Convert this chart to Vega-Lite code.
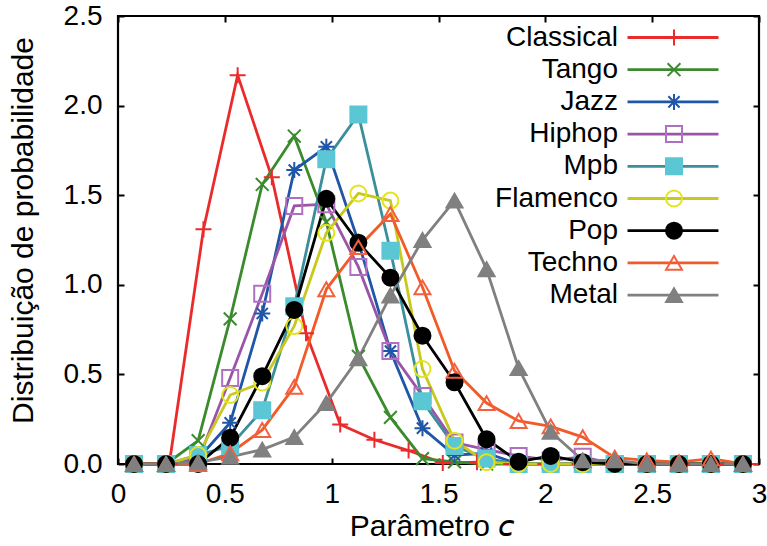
{
  "$schema": "https://vega.github.io/schema/vega-lite/v6.json",
  "width": 641,
  "height": 448,
  "autosize": {"type": "none"},
  "padding": {"left": 118, "top": 16, "right": 8, "bottom": 82},
  "background": "white",
  "config": {
    "view": {"stroke": "black", "strokeWidth": 2.2},
    "font": "Liberation Sans",
    "axis": {
      "labelFont": "Liberation Sans",
      "titleFont": "Liberation Sans",
      "labelColor": "black",
      "titleColor": "black",
      "labelFontSize": 28,
      "titleFontSize": 30,
      "titleFontWeight": "normal",
      "grid": false,
      "domain": false,
      "tickColor": "black",
      "tickWidth": 2,
      "tickSize": -6
    }
  },
  "data": {
    "values": [
      {"genre": "Classical", "c": 0.08, "p": 0},
      {"genre": "Classical", "c": 0.24, "p": 0},
      {"genre": "Classical", "c": 0.40, "p": 1.31},
      {"genre": "Classical", "c": 0.56, "p": 2.17},
      {"genre": "Classical", "c": 0.72, "p": 1.60},
      {"genre": "Classical", "c": 0.88, "p": 0.73},
      {"genre": "Classical", "c": 1.04, "p": 0.22},
      {"genre": "Classical", "c": 1.20, "p": 0.135},
      {"genre": "Classical", "c": 1.36, "p": 0.075},
      {"genre": "Classical", "c": 1.52, "p": 0.005},
      {"genre": "Classical", "c": 1.68, "p": 0.01},
      {"genre": "Classical", "c": 1.84, "p": 0},
      {"genre": "Classical", "c": 2.00, "p": 0},
      {"genre": "Classical", "c": 2.16, "p": 0},
      {"genre": "Classical", "c": 2.32, "p": 0},
      {"genre": "Classical", "c": 2.48, "p": 0},
      {"genre": "Classical", "c": 2.64, "p": 0},
      {"genre": "Classical", "c": 2.80, "p": 0},
      {"genre": "Classical", "c": 2.96, "p": 0},

      {"genre": "Tango", "c": 0.075, "p": 0},
      {"genre": "Tango", "c": 0.225, "p": 0},
      {"genre": "Tango", "c": 0.375, "p": 0.13},
      {"genre": "Tango", "c": 0.525, "p": 0.81},
      {"genre": "Tango", "c": 0.675, "p": 1.56},
      {"genre": "Tango", "c": 0.825, "p": 1.83},
      {"genre": "Tango", "c": 0.975, "p": 1.35},
      {"genre": "Tango", "c": 1.125, "p": 0.60},
      {"genre": "Tango", "c": 1.275, "p": 0.26},
      {"genre": "Tango", "c": 1.425, "p": 0.03},
      {"genre": "Tango", "c": 1.575, "p": 0.012},
      {"genre": "Tango", "c": 1.725, "p": 0},
      {"genre": "Tango", "c": 1.875, "p": 0},
      {"genre": "Tango", "c": 2.025, "p": 0},
      {"genre": "Tango", "c": 2.175, "p": 0},
      {"genre": "Tango", "c": 2.325, "p": 0},
      {"genre": "Tango", "c": 2.475, "p": 0},
      {"genre": "Tango", "c": 2.625, "p": 0},
      {"genre": "Tango", "c": 2.775, "p": 0},
      {"genre": "Tango", "c": 2.925, "p": 0},

      {"genre": "Jazz", "c": 0.075, "p": 0},
      {"genre": "Jazz", "c": 0.225, "p": 0},
      {"genre": "Jazz", "c": 0.375, "p": 0.03},
      {"genre": "Jazz", "c": 0.525, "p": 0.23},
      {"genre": "Jazz", "c": 0.675, "p": 0.84},
      {"genre": "Jazz", "c": 0.825, "p": 1.64},
      {"genre": "Jazz", "c": 0.975, "p": 1.77},
      {"genre": "Jazz", "c": 1.125, "p": 1.24},
      {"genre": "Jazz", "c": 1.275, "p": 0.63},
      {"genre": "Jazz", "c": 1.425, "p": 0.20},
      {"genre": "Jazz", "c": 1.575, "p": 0.05},
      {"genre": "Jazz", "c": 1.725, "p": 0.06},
      {"genre": "Jazz", "c": 1.875, "p": 0},
      {"genre": "Jazz", "c": 2.025, "p": 0},
      {"genre": "Jazz", "c": 2.175, "p": 0},
      {"genre": "Jazz", "c": 2.325, "p": 0},
      {"genre": "Jazz", "c": 2.475, "p": 0},
      {"genre": "Jazz", "c": 2.625, "p": 0},
      {"genre": "Jazz", "c": 2.775, "p": 0},
      {"genre": "Jazz", "c": 2.925, "p": 0},

      {"genre": "Hiphop", "c": 0.075, "p": 0},
      {"genre": "Hiphop", "c": 0.225, "p": 0},
      {"genre": "Hiphop", "c": 0.375, "p": 0.02},
      {"genre": "Hiphop", "c": 0.525, "p": 0.48},
      {"genre": "Hiphop", "c": 0.675, "p": 0.95},
      {"genre": "Hiphop", "c": 0.825, "p": 1.44},
      {"genre": "Hiphop", "c": 0.975, "p": 1.45},
      {"genre": "Hiphop", "c": 1.125, "p": 1.10},
      {"genre": "Hiphop", "c": 1.275, "p": 0.63},
      {"genre": "Hiphop", "c": 1.425, "p": 0.38},
      {"genre": "Hiphop", "c": 1.575, "p": 0.12},
      {"genre": "Hiphop", "c": 1.725, "p": 0.08},
      {"genre": "Hiphop", "c": 1.875, "p": 0.045},
      {"genre": "Hiphop", "c": 2.025, "p": 0.02},
      {"genre": "Hiphop", "c": 2.175, "p": 0.04},
      {"genre": "Hiphop", "c": 2.325, "p": 0},
      {"genre": "Hiphop", "c": 2.475, "p": 0},
      {"genre": "Hiphop", "c": 2.625, "p": 0},
      {"genre": "Hiphop", "c": 2.775, "p": 0},
      {"genre": "Hiphop", "c": 2.925, "p": 0},

      {"genre": "Mpb", "c": 0.075, "p": 0},
      {"genre": "Mpb", "c": 0.225, "p": 0},
      {"genre": "Mpb", "c": 0.375, "p": 0.05},
      {"genre": "Mpb", "c": 0.525, "p": 0.10},
      {"genre": "Mpb", "c": 0.675, "p": 0.30},
      {"genre": "Mpb", "c": 0.825, "p": 0.88},
      {"genre": "Mpb", "c": 0.975, "p": 1.70},
      {"genre": "Mpb", "c": 1.125, "p": 1.95},
      {"genre": "Mpb", "c": 1.275, "p": 1.19},
      {"genre": "Mpb", "c": 1.425, "p": 0.35},
      {"genre": "Mpb", "c": 1.575, "p": 0.10},
      {"genre": "Mpb", "c": 1.725, "p": 0.03},
      {"genre": "Mpb", "c": 1.875, "p": 0},
      {"genre": "Mpb", "c": 2.025, "p": 0},
      {"genre": "Mpb", "c": 2.175, "p": 0},
      {"genre": "Mpb", "c": 2.325, "p": 0},
      {"genre": "Mpb", "c": 2.475, "p": 0},
      {"genre": "Mpb", "c": 2.625, "p": 0},
      {"genre": "Mpb", "c": 2.775, "p": 0},
      {"genre": "Mpb", "c": 2.925, "p": 0},

      {"genre": "Flamenco", "c": 0.075, "p": 0},
      {"genre": "Flamenco", "c": 0.225, "p": 0},
      {"genre": "Flamenco", "c": 0.375, "p": 0.05},
      {"genre": "Flamenco", "c": 0.525, "p": 0.385},
      {"genre": "Flamenco", "c": 0.675, "p": 0.455},
      {"genre": "Flamenco", "c": 0.825, "p": 0.77},
      {"genre": "Flamenco", "c": 0.975, "p": 1.29},
      {"genre": "Flamenco", "c": 1.125, "p": 1.51},
      {"genre": "Flamenco", "c": 1.275, "p": 1.47},
      {"genre": "Flamenco", "c": 1.425, "p": 0.53},
      {"genre": "Flamenco", "c": 1.575, "p": 0.13},
      {"genre": "Flamenco", "c": 1.725, "p": 0.01},
      {"genre": "Flamenco", "c": 1.875, "p": 0},
      {"genre": "Flamenco", "c": 2.025, "p": 0},
      {"genre": "Flamenco", "c": 2.175, "p": 0},
      {"genre": "Flamenco", "c": 2.325, "p": 0},
      {"genre": "Flamenco", "c": 2.475, "p": 0},
      {"genre": "Flamenco", "c": 2.625, "p": 0},
      {"genre": "Flamenco", "c": 2.775, "p": 0},
      {"genre": "Flamenco", "c": 2.925, "p": 0},

      {"genre": "Pop", "c": 0.075, "p": 0},
      {"genre": "Pop", "c": 0.225, "p": 0},
      {"genre": "Pop", "c": 0.375, "p": 0},
      {"genre": "Pop", "c": 0.525, "p": 0.147},
      {"genre": "Pop", "c": 0.675, "p": 0.49},
      {"genre": "Pop", "c": 0.825, "p": 0.86},
      {"genre": "Pop", "c": 0.975, "p": 1.48},
      {"genre": "Pop", "c": 1.125, "p": 1.235},
      {"genre": "Pop", "c": 1.275, "p": 1.04},
      {"genre": "Pop", "c": 1.425, "p": 0.716},
      {"genre": "Pop", "c": 1.575, "p": 0.456},
      {"genre": "Pop", "c": 1.725, "p": 0.138},
      {"genre": "Pop", "c": 1.875, "p": 0.013},
      {"genre": "Pop", "c": 2.025, "p": 0.045},
      {"genre": "Pop", "c": 2.175, "p": 0.01},
      {"genre": "Pop", "c": 2.325, "p": 0},
      {"genre": "Pop", "c": 2.475, "p": 0},
      {"genre": "Pop", "c": 2.625, "p": 0},
      {"genre": "Pop", "c": 2.775, "p": 0},
      {"genre": "Pop", "c": 2.925, "p": 0},

      {"genre": "Techno", "c": 0.075, "p": 0},
      {"genre": "Techno", "c": 0.225, "p": 0},
      {"genre": "Techno", "c": 0.375, "p": 0},
      {"genre": "Techno", "c": 0.525, "p": 0.06},
      {"genre": "Techno", "c": 0.675, "p": 0.19},
      {"genre": "Techno", "c": 0.825, "p": 0.43},
      {"genre": "Techno", "c": 0.975, "p": 0.975},
      {"genre": "Techno", "c": 1.125, "p": 1.21},
      {"genre": "Techno", "c": 1.275, "p": 1.395},
      {"genre": "Techno", "c": 1.425, "p": 0.986},
      {"genre": "Techno", "c": 1.575, "p": 0.52},
      {"genre": "Techno", "c": 1.725, "p": 0.34},
      {"genre": "Techno", "c": 1.875, "p": 0.24},
      {"genre": "Techno", "c": 2.025, "p": 0.21},
      {"genre": "Techno", "c": 2.175, "p": 0.15},
      {"genre": "Techno", "c": 2.325, "p": 0.035},
      {"genre": "Techno", "c": 2.475, "p": 0.02},
      {"genre": "Techno", "c": 2.625, "p": 0.01},
      {"genre": "Techno", "c": 2.775, "p": 0.03},
      {"genre": "Techno", "c": 2.925, "p": 0},

      {"genre": "Metal", "c": 0.075, "p": 0},
      {"genre": "Metal", "c": 0.225, "p": 0},
      {"genre": "Metal", "c": 0.375, "p": 0.01},
      {"genre": "Metal", "c": 0.525, "p": 0.04},
      {"genre": "Metal", "c": 0.675, "p": 0.08},
      {"genre": "Metal", "c": 0.825, "p": 0.15},
      {"genre": "Metal", "c": 0.975, "p": 0.34},
      {"genre": "Metal", "c": 1.125, "p": 0.59},
      {"genre": "Metal", "c": 1.275, "p": 0.94},
      {"genre": "Metal", "c": 1.425, "p": 1.25},
      {"genre": "Metal", "c": 1.575, "p": 1.47},
      {"genre": "Metal", "c": 1.725, "p": 1.087},
      {"genre": "Metal", "c": 1.875, "p": 0.535},
      {"genre": "Metal", "c": 2.025, "p": 0.18},
      {"genre": "Metal", "c": 2.175, "p": 0.02},
      {"genre": "Metal", "c": 2.325, "p": 0.02},
      {"genre": "Metal", "c": 2.475, "p": 0},
      {"genre": "Metal", "c": 2.625, "p": 0},
      {"genre": "Metal", "c": 2.775, "p": 0},
      {"genre": "Metal", "c": 2.925, "p": 0}
    ]
  },
  "layer": [
    {
      "mark": {"type": "line", "strokeWidth": 2.8},
      "encoding": {
        "x": {
          "field": "c",
          "type": "quantitative",
          "scale": {"domain": [0, 3], "nice": false, "zero": false},
          "axis": {
            "values": [0, 0.5, 1, 1.5, 2, 2.5, 3],
            "format": "~g",
            "labelPadding": 22,
            "labelFlush": false,
            "title": "Parâmetro 𝘤",
            "titleX": 314,
            "titleY": 62,
            "titleBaseline": "middle"
          }
        },
        "y": {
          "field": "p",
          "type": "quantitative",
          "scale": {"domain": [0, 2.5], "nice": false},
          "axis": {
            "values": [0, 0.5, 1, 1.5, 2, 2.5],
            "format": ".1f",
            "labelPadding": 22,
            "labelFlush": false,
            "title": "Distribuição de probabilidade",
            "titleX": -95,
            "titleY": 214,
            "titleBaseline": "middle"
          }
        },
        "color": {
          "field": "genre",
          "type": "nominal",
          "scale": {
            "domain": ["Classical", "Tango", "Jazz", "Hiphop", "Mpb", "Flamenco", "Pop", "Techno", "Metal"],
            "range": ["#ea2b2b", "#3b8a2e", "#1f56a8", "#9b55a8", "#3a8f9a", "#c8c81e", "#000000", "#f25a28", "#808080"]
          },
          "legend": {
            "orient": "none",
            "legendX": 541,
            "legendY": 7.5,
            "title": null,
            "padding": 0,
            "symbolType": "M-5,0L5,0",
            "symbolSize": 331,
            "symbolStrokeWidth": 2.8,
            "labelAlign": "right",
            "labelOffset": -69,
            "labelFont": "Liberation Sans",
            "labelFontSize": 28,
            "labelColor": "black",
            "labelLimit": 300,
            "rowPadding": 4.2
          }
        }
      }
    },
    {
      "mark": {"type": "point", "size": 256, "strokeWidth": 2, "opacity": 1},
      "encoding": {
        "x": {
          "field": "c",
          "type": "quantitative",
          "axis": {"orient": "top", "values": [0, 0.5, 1, 1.5, 2, 2.5, 3], "labels": false, "title": null}
        },
        "y": {
          "field": "p",
          "type": "quantitative",
          "axis": {"orient": "right", "values": [0, 0.5, 1, 1.5, 2, 2.5], "labels": false, "title": null}
        },
        "shape": {
          "field": "genre",
          "type": "nominal",
          "scale": {
            "domain": ["Classical", "Tango", "Jazz", "Hiphop", "Mpb", "Flamenco", "Pop", "Techno", "Metal"],
            "range": [
              "M-1,0L1,0M0,-1L0,1",
              "M-0.8,-0.8L0.8,0.8M-0.8,0.8L0.8,-0.8",
              "M-1,0L1,0M0,-1L0,1M-0.7,-0.7L0.7,0.7M-0.7,0.7L0.7,-0.7",
              "square",
              "square",
              "circle",
              "circle",
              "triangle-up",
              "triangle-up"
            ]
          },
          "legend": {
            "orient": "none",
            "legendX": 542,
            "legendY": 7.5,
            "title": null,
            "padding": 0,
            "symbolSize": 256,
            "symbolStrokeWidth": 2,
            "labelExpr": "' '",
            "labelOpacity": 0,
            "labelFontSize": 28,
            "labelFont": "Liberation Sans",
            "rowPadding": 4.2
          }
        },
        "stroke": {
          "field": "genre",
          "type": "nominal",
          "scale": {
            "domain": ["Classical", "Tango", "Jazz", "Hiphop", "Mpb", "Flamenco", "Pop", "Techno", "Metal"],
            "range": ["#ea2b2b", "#3b8a2e", "#1f56a8", "#b070c0", "#5bc6d4", "#e4e41e", "#000000", "#f26040", "#808080"]
          },
          "legend": {
            "orient": "none",
            "legendX": 542,
            "legendY": 7.5,
            "title": null,
            "padding": 0,
            "symbolSize": 256,
            "symbolStrokeWidth": 2,
            "labelExpr": "' '",
            "labelOpacity": 0,
            "labelFontSize": 28,
            "labelFont": "Liberation Sans",
            "rowPadding": 4.2
          }
        },
        "fill": {
          "field": "genre",
          "type": "nominal",
          "scale": {
            "domain": ["Classical", "Tango", "Jazz", "Hiphop", "Mpb", "Flamenco", "Pop", "Techno", "Metal"],
            "range": ["transparent", "transparent", "transparent", "transparent", "#5bc6d4", "transparent", "#000000", "transparent", "#808080"]
          },
          "legend": {
            "orient": "none",
            "legendX": 542,
            "legendY": 7.5,
            "title": null,
            "padding": 0,
            "symbolSize": 256,
            "symbolStrokeWidth": 2,
            "labelExpr": "' '",
            "labelOpacity": 0,
            "labelFontSize": 28,
            "labelFont": "Liberation Sans",
            "rowPadding": 4.2
          }
        }
      }
    }
  ],
  "resolve": {
    "axis": {"x": "independent", "y": "independent"},
    "legend": {"color": "independent", "stroke": "independent", "fill": "independent", "shape": "independent"}
  }
}
